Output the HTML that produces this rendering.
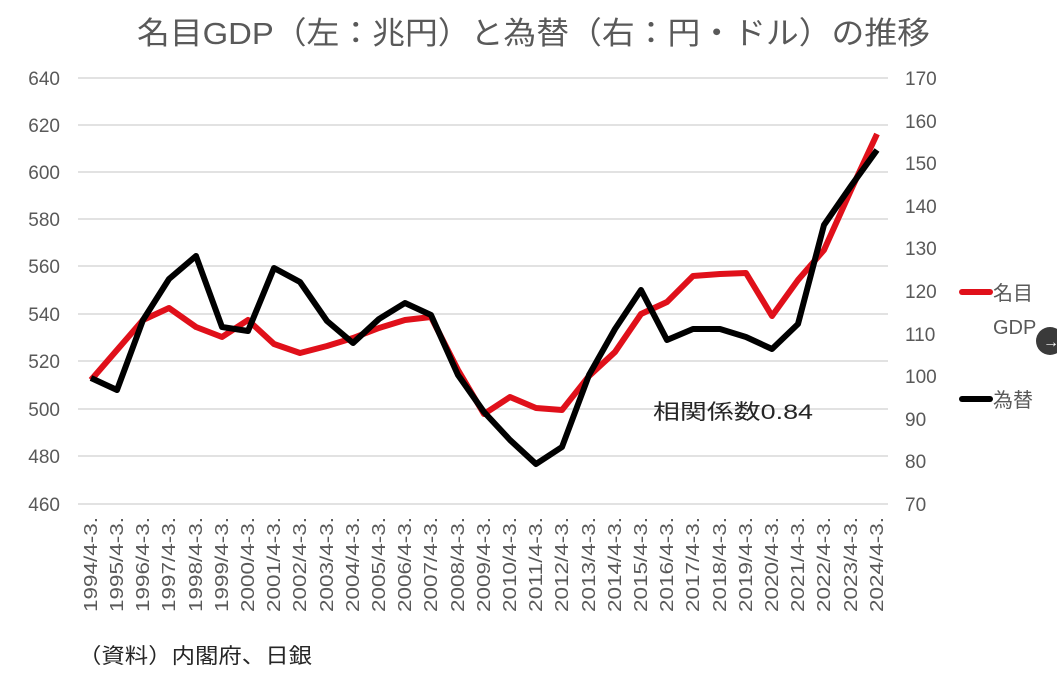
<!DOCTYPE html>
<html><head><meta charset="utf-8"><style>
body{margin:0;background:#fff;}
svg text{font-family:"Liberation Sans","Noto Sans CJK JP",sans-serif;}
</style></head><body>
<svg width="1057" height="684" viewBox="0 0 1057 684" xmlns="http://www.w3.org/2000/svg">
<rect width="1057" height="684" fill="#fff"/>
<text x="137" y="44" font-size="31" fill="#595959" textLength="793" lengthAdjust="spacingAndGlyphs">名目GDP（左：兆円）と為替（右：円・ドル）の推移</text>
<g stroke="#d9d9d9" stroke-width="1.5">
<line x1="78" x2="888" y1="78" y2="78"/><line x1="78" x2="888" y1="125" y2="125"/>
<line x1="78" x2="888" y1="172" y2="172"/><line x1="78" x2="888" y1="219" y2="219"/>
<line x1="78" x2="888" y1="266" y2="266"/><line x1="78" x2="888" y1="314" y2="314"/>
<line x1="78" x2="888" y1="361" y2="361"/><line x1="78" x2="888" y1="409" y2="409"/>
<line x1="78" x2="888" y1="456" y2="456"/><line x1="78" x2="888" y1="504" y2="504"/>
</g>
<g font-size="19" fill="#595959" text-anchor="end">
<text x="60" y="85">640</text><text x="60" y="132">620</text><text x="60" y="179">600</text>
<text x="60" y="226">580</text><text x="60" y="273">560</text><text x="60" y="321">540</text>
<text x="60" y="368">520</text><text x="60" y="416">500</text><text x="60" y="463">480</text>
<text x="60" y="511">460</text>
</g>
<g font-size="19" fill="#595959">
<text x="905" y="85">170</text><text x="905" y="128">160</text><text x="905" y="170">150</text>
<text x="905" y="213">140</text><text x="905" y="255">130</text><text x="905" y="298">120</text>
<text x="905" y="341">110</text><text x="905" y="383">100</text><text x="905" y="426">90</text>
<text x="905" y="468">80</text><text x="905" y="511">70</text>
</g>
<polyline fill="none" stroke="#e0101a" stroke-width="6" stroke-linejoin="round" points="91,380 117,350 143,320 169,308 196,327 222,337 248,320 274,344 300,353 327,346 353,338 379,328 405,320 431,317 458,370 484,414 510,397 536,408 562,410 589,376 615,352 641,314 667,302 693,276 720,274 746,273 772,316 798,280 824,250 851,190 877,134"/>
<polyline fill="none" stroke="#000" stroke-width="6" stroke-linejoin="round" points="91,378 117,390 143,320 169,279 196,256 222,327 248,331 274,268 300,282 327,321 353,343 379,319 405,303 431,315 458,375 484,412 510,440 536,464 562,447 589,375 615,329 641,290 667,340 693,329 720,329 746,337 772,349 798,324 824,225 851,186 877,150"/>
<text x="653" y="419" font-size="21" fill="#262626" textLength="160" lengthAdjust="spacingAndGlyphs">相関係数0.84</text>
<line x1="962" x2="990" y1="292" y2="292" stroke="#e0101a" stroke-width="6" stroke-linecap="round"/>
<text x="993" y="300" font-size="20" fill="#595959">名目</text>
<text x="993" y="334" font-size="20" fill="#595959">GDP</text>
<line x1="962" x2="990" y1="399" y2="399" stroke="#000" stroke-width="6" stroke-linecap="round"/>
<text x="993" y="407" font-size="20" fill="#595959">為替</text>
<circle cx="1050" cy="341" r="14" fill="#3a3a3a"/>
<text x="1043" y="347" font-size="16" fill="#fff">→</text>
<g font-size="18" fill="#595959" text-anchor="end">
<text transform="translate(97,517) rotate(-90)" textLength="95" lengthAdjust="spacingAndGlyphs">1994/4-3.</text>
<text transform="translate(123,517) rotate(-90)" textLength="95" lengthAdjust="spacingAndGlyphs">1995/4-3.</text>
<text transform="translate(149,517) rotate(-90)" textLength="95" lengthAdjust="spacingAndGlyphs">1996/4-3.</text>
<text transform="translate(175,517) rotate(-90)" textLength="95" lengthAdjust="spacingAndGlyphs">1997/4-3.</text>
<text transform="translate(202,517) rotate(-90)" textLength="95" lengthAdjust="spacingAndGlyphs">1998/4-3.</text>
<text transform="translate(228,517) rotate(-90)" textLength="95" lengthAdjust="spacingAndGlyphs">1999/4-3.</text>
<text transform="translate(254,517) rotate(-90)" textLength="95" lengthAdjust="spacingAndGlyphs">2000/4-3.</text>
<text transform="translate(280,517) rotate(-90)" textLength="95" lengthAdjust="spacingAndGlyphs">2001/4-3.</text>
<text transform="translate(306,517) rotate(-90)" textLength="95" lengthAdjust="spacingAndGlyphs">2002/4-3.</text>
<text transform="translate(333,517) rotate(-90)" textLength="95" lengthAdjust="spacingAndGlyphs">2003/4-3.</text>
<text transform="translate(359,517) rotate(-90)" textLength="95" lengthAdjust="spacingAndGlyphs">2004/4-3.</text>
<text transform="translate(385,517) rotate(-90)" textLength="95" lengthAdjust="spacingAndGlyphs">2005/4-3.</text>
<text transform="translate(411,517) rotate(-90)" textLength="95" lengthAdjust="spacingAndGlyphs">2006/4-3.</text>
<text transform="translate(437,517) rotate(-90)" textLength="95" lengthAdjust="spacingAndGlyphs">2007/4-3.</text>
<text transform="translate(464,517) rotate(-90)" textLength="95" lengthAdjust="spacingAndGlyphs">2008/4-3.</text>
<text transform="translate(490,517) rotate(-90)" textLength="95" lengthAdjust="spacingAndGlyphs">2009/4-3.</text>
<text transform="translate(516,517) rotate(-90)" textLength="95" lengthAdjust="spacingAndGlyphs">2010/4-3.</text>
<text transform="translate(542,517) rotate(-90)" textLength="95" lengthAdjust="spacingAndGlyphs">2011/4-3.</text>
<text transform="translate(568,517) rotate(-90)" textLength="95" lengthAdjust="spacingAndGlyphs">2012/4-3.</text>
<text transform="translate(595,517) rotate(-90)" textLength="95" lengthAdjust="spacingAndGlyphs">2013/4-3.</text>
<text transform="translate(621,517) rotate(-90)" textLength="95" lengthAdjust="spacingAndGlyphs">2014/4-3.</text>
<text transform="translate(647,517) rotate(-90)" textLength="95" lengthAdjust="spacingAndGlyphs">2015/4-3.</text>
<text transform="translate(673,517) rotate(-90)" textLength="95" lengthAdjust="spacingAndGlyphs">2016/4-3.</text>
<text transform="translate(699,517) rotate(-90)" textLength="95" lengthAdjust="spacingAndGlyphs">2017/4-3.</text>
<text transform="translate(726,517) rotate(-90)" textLength="95" lengthAdjust="spacingAndGlyphs">2018/4-3.</text>
<text transform="translate(752,517) rotate(-90)" textLength="95" lengthAdjust="spacingAndGlyphs">2019/4-3.</text>
<text transform="translate(778,517) rotate(-90)" textLength="95" lengthAdjust="spacingAndGlyphs">2020/4-3.</text>
<text transform="translate(804,517) rotate(-90)" textLength="95" lengthAdjust="spacingAndGlyphs">2021/4-3.</text>
<text transform="translate(830,517) rotate(-90)" textLength="95" lengthAdjust="spacingAndGlyphs">2022/4-3.</text>
<text transform="translate(857,517) rotate(-90)" textLength="95" lengthAdjust="spacingAndGlyphs">2023/4-3.</text>
<text transform="translate(883,517) rotate(-90)" textLength="95" lengthAdjust="spacingAndGlyphs">2024/4-3.</text>
</g>
<text x="78" y="663" font-size="21" fill="#262626" textLength="234" lengthAdjust="spacingAndGlyphs">（資料）内閣府、日銀</text>
</svg>
</body></html>
